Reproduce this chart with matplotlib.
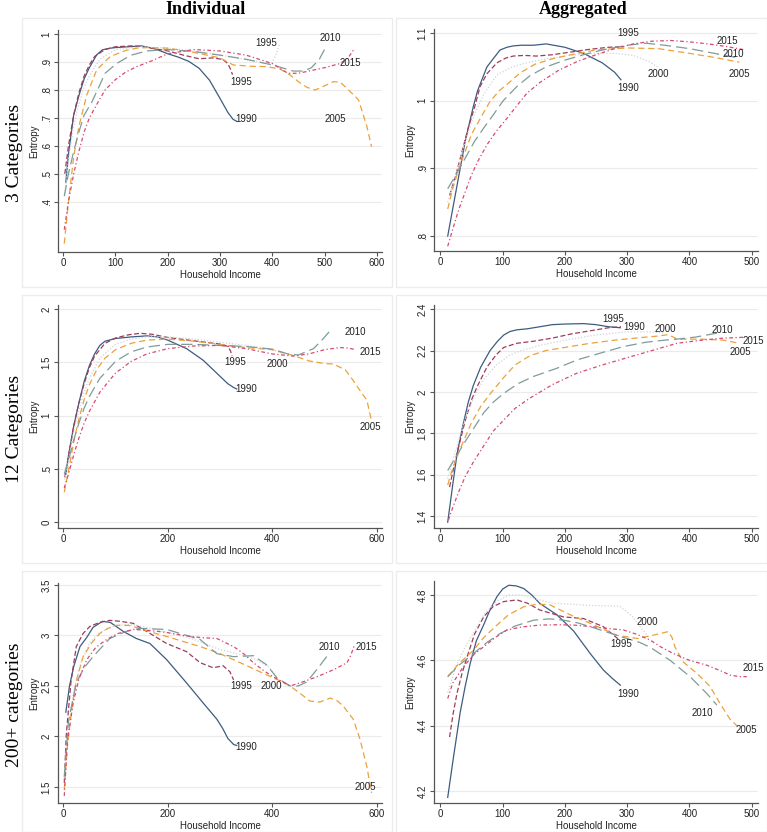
import matplotlib
matplotlib.use("Agg")
import matplotlib.pyplot as plt
from matplotlib.patches import Rectangle

YEARS = ["1990", "1995", "2000", "2005", "2010", "2015"]

# ---- Individual, 3 categories ----
ind3_x = {
    "1990": [5, 10, 20, 30, 40, 50, 64, 75, 90, 100, 125, 150, 175, 200, 220, 240, 260, 280, 300, 315, 325, 332],
    "1995": [3, 10, 20, 30, 40, 50, 60, 80, 100, 130, 150, 175, 200, 230, 260, 285, 305, 315, 320, 324],
    "2000": [3, 10, 20, 30, 40, 50, 70, 100, 150, 200, 250, 300, 350, 390, 400, 408, 414],
    "2005": [2, 10, 20, 30, 45, 64, 90, 120, 141, 160, 200, 250, 300, 325, 360, 389, 415, 434, 450, 466, 482, 500, 517, 530, 543, 565, 581, 590],
    "2010": [2, 10, 20, 30, 40, 55, 68, 80, 103, 130, 160, 200, 250, 300, 350, 400, 440, 460, 475, 490, 500],
    "2015": [2, 10, 20, 30, 40, 50, 67, 80, 99, 120, 141, 170, 200, 250, 300, 350, 400, 430, 450, 475, 500, 530, 545, 556],
}
ind3_y = {
    "1990": [0.47, 0.57, 0.71, 0.78, 0.84, 0.88, 0.926, 0.944, 0.95, 0.952, 0.955, 0.958, 0.948, 0.93, 0.918, 0.903, 0.878, 0.835, 0.77, 0.72, 0.695, 0.688],
    "1995": [0.50, 0.60, 0.71, 0.79, 0.85, 0.89, 0.92, 0.945, 0.955, 0.958, 0.956, 0.948, 0.94, 0.925, 0.912, 0.915, 0.91, 0.895, 0.875, 0.855],
    "2000": [0.42, 0.55, 0.67, 0.75, 0.81, 0.85, 0.91, 0.945, 0.955, 0.95, 0.94, 0.925, 0.91, 0.895, 0.898, 0.93, 0.965],
    "2005": [0.25, 0.40, 0.56, 0.67, 0.782, 0.872, 0.92, 0.942, 0.95, 0.952, 0.95, 0.935, 0.915, 0.89, 0.885, 0.884, 0.875, 0.854, 0.83, 0.81, 0.80, 0.815, 0.83, 0.828, 0.806, 0.765, 0.67, 0.597],
    "2010": [0.42, 0.50, 0.58, 0.65, 0.71, 0.758, 0.81, 0.86, 0.896, 0.925, 0.94, 0.945, 0.938, 0.925, 0.91, 0.89, 0.868, 0.868, 0.88, 0.91, 0.945],
    "2015": [0.30, 0.40, 0.50, 0.58, 0.65, 0.70, 0.758, 0.80, 0.836, 0.865, 0.884, 0.905, 0.93, 0.945, 0.94, 0.925, 0.895, 0.86, 0.86, 0.87, 0.88, 0.895, 0.915, 0.945],
}
ind3_labels = [("1995", 389, 0.968), ("1995", 341, 0.83), ("1990", 351, 0.696),
               ("2005", 520, 0.696), ("2010", 511, 0.988), ("2015", 549, 0.898)]

# ---- Aggregated, 3 categories ----
agg3_x = {
    "1990": [12, 20, 30, 40, 53, 60, 75, 85, 96, 107, 117, 130, 150, 170, 200, 230, 260, 280, 290],
    "1995": [15, 25, 35, 45, 55, 64, 75, 91, 105, 117, 135, 154, 180, 210, 240, 270, 295],
    "2000": [12, 25, 40, 55, 70, 91, 115, 139, 170, 200, 240, 280, 310, 335, 352],
    "2005": [12, 20, 30, 40, 50, 65, 80, 95, 107, 128, 152, 180, 210, 250, 300, 350, 400, 440, 480],
    "2010": [12, 25, 40, 55, 70, 85, 101, 123, 144, 170, 200, 230, 260, 300, 330, 360, 400, 440, 480],
    "2015": [12, 20, 30, 40, 50, 60, 75, 90, 107, 125, 139, 160, 190, 220, 250, 280, 310, 340, 370, 400, 430, 460, 490],
}
agg3_y = {
    "1990": [0.80, 0.84, 0.89, 0.94, 0.991, 1.015, 1.05, 1.062, 1.075, 1.079, 1.081, 1.082, 1.082, 1.084, 1.079, 1.07, 1.056, 1.042, 1.031],
    "1995": [0.86, 0.89, 0.925, 0.96, 0.99, 1.021, 1.04, 1.056, 1.063, 1.066, 1.067, 1.066, 1.068, 1.072, 1.076, 1.079, 1.08],
    "2000": [0.85, 0.89, 0.94, 0.98, 1.01, 1.038, 1.05, 1.056, 1.062, 1.066, 1.07, 1.07, 1.067, 1.058, 1.048],
    "2005": [0.84, 0.87, 0.90, 0.925, 0.95, 0.975, 0.999, 1.015, 1.024, 1.041, 1.054, 1.062, 1.068, 1.075, 1.078, 1.077, 1.07, 1.064, 1.057],
    "2010": [0.87, 0.89, 0.915, 0.94, 0.96, 0.979, 1.0, 1.021, 1.037, 1.05, 1.06, 1.068, 1.075, 1.082, 1.085, 1.082, 1.077, 1.07, 1.063],
    "2015": [0.785, 0.81, 0.84, 0.865, 0.89, 0.91, 0.935, 0.955, 0.974, 0.995, 1.011, 1.027, 1.045, 1.058, 1.068, 1.077, 1.084, 1.088, 1.089, 1.087, 1.084, 1.08, 1.075],
}
agg3_labels = [("1995", 302, 1.10), ("2015", 461, 1.089), ("2010", 471, 1.069),
               ("2000", 350, 1.04), ("2005", 480, 1.04), ("1990", 301, 1.019)]

# ---- Individual, 12 categories ----
ind12_x = {
    "1990": [5, 10, 20, 30, 40, 50, 60, 70, 80, 100, 130, 160, 180, 200, 236, 268, 300, 315, 326, 332],
    "1995": [3, 10, 20, 30, 40, 50, 60, 80, 100, 125, 147, 170, 200, 240, 280, 305, 315, 320, 323],
    "2000": [3, 10, 20, 30, 40, 50, 70, 100, 130, 160, 200, 250, 300, 350, 380, 400, 415, 425],
    "2005": [2, 10, 20, 30, 40, 50, 65, 80, 100, 130, 160, 200, 250, 300, 350, 400, 440, 470, 500, 517, 540, 555, 570, 581, 590],
    "2010": [2, 10, 20, 30, 40, 50, 70, 100, 130, 160, 200, 250, 300, 350, 400, 430, 450, 479, 495, 511],
    "2015": [2, 10, 20, 30, 40, 50, 70, 100, 130, 160, 200, 250, 300, 350, 400, 440, 470, 500, 530, 545, 560],
}
ind12_y = {
    "1990": [0.45, 0.62, 0.90, 1.12, 1.32, 1.47, 1.58, 1.66, 1.70, 1.725, 1.74, 1.75, 1.74, 1.71, 1.63, 1.52, 1.37, 1.30, 1.265, 1.25],
    "1995": [0.42, 0.62, 0.90, 1.12, 1.30, 1.45, 1.56, 1.68, 1.73, 1.76, 1.774, 1.765, 1.735, 1.71, 1.685, 1.67, 1.65, 1.61, 1.56],
    "2000": [0.40, 0.58, 0.85, 1.05, 1.22, 1.35, 1.54, 1.67, 1.72, 1.74, 1.74, 1.72, 1.69, 1.66, 1.64, 1.62, 1.595, 1.565],
    "2005": [0.28, 0.48, 0.75, 0.97, 1.15, 1.29, 1.44, 1.54, 1.62, 1.68, 1.71, 1.72, 1.70, 1.67, 1.64, 1.62, 1.565, 1.515, 1.49, 1.485, 1.43, 1.33, 1.22, 1.146, 0.95],
    "2010": [0.45, 0.58, 0.77, 0.93, 1.07, 1.18, 1.35, 1.51, 1.60, 1.645, 1.67, 1.67, 1.66, 1.65, 1.625, 1.58, 1.57, 1.63, 1.71, 1.80],
    "2015": [0.32, 0.45, 0.63, 0.79, 0.93, 1.04, 1.22, 1.40, 1.51, 1.58, 1.63, 1.655, 1.66, 1.63, 1.58, 1.56, 1.58, 1.62, 1.64, 1.635, 1.62],
}
ind12_labels = [("2010", 558, 1.79), ("2015", 588, 1.595), ("1995", 330, 1.507),
                ("2000", 410, 1.485), ("1990", 351, 1.246), ("2005", 588, 0.895)]

# ---- Aggregated, 12 categories ----
agg12_x = {
    "1990": [12, 20, 27, 35, 45, 53, 65, 80, 92, 102, 112, 123, 140, 160, 180, 200, 230, 250, 270, 289],
    "1995": [15, 22, 30, 40, 50, 60, 75, 90, 102, 123, 150, 180, 210, 240, 270, 290],
    "2000": [12, 25, 40, 55, 70, 90, 110, 130, 160, 200, 250, 300, 340, 360],
    "2005": [12, 20, 30, 40, 50, 65, 80, 102, 120, 144, 170, 200, 241, 280, 320, 350, 364, 372, 380, 420, 455, 480],
    "2010": [12, 20, 30, 40, 55, 70, 85, 102, 125, 150, 187, 220, 260, 294, 330, 360, 380, 410, 444],
    "2015": [13, 20, 30, 40, 53, 70, 85, 102, 120, 144, 180, 219, 260, 294, 340, 380, 420, 455, 487],
}
agg12_y = {
    "1990": [1.37, 1.55, 1.70, 1.82, 1.95, 2.03, 2.12, 2.20, 2.245, 2.275, 2.292, 2.30, 2.305, 2.315, 2.325, 2.328, 2.33, 2.325, 2.315, 2.31],
    "1995": [1.54, 1.64, 1.74, 1.86, 1.96, 2.03, 2.12, 2.18, 2.215, 2.235, 2.245, 2.26, 2.28, 2.295, 2.31, 2.315],
    "2000": [1.58, 1.72, 1.87, 1.98, 2.06, 2.13, 2.175, 2.20, 2.225, 2.25, 2.275, 2.29, 2.29, 2.285],
    "2005": [1.55, 1.63, 1.71, 1.78, 1.85, 1.93, 1.99, 2.07, 2.13, 2.175, 2.20, 2.215, 2.235, 2.25, 2.262, 2.27, 2.276, 2.268, 2.255, 2.255, 2.25, 2.235],
    "2010": [1.62, 1.66, 1.71, 1.76, 1.83, 1.90, 1.95, 1.993, 2.04, 2.075, 2.114, 2.155, 2.19, 2.219, 2.24, 2.25, 2.255, 2.265, 2.284],
    "2015": [1.38, 1.44, 1.52, 1.59, 1.66, 1.74, 1.81, 1.864, 1.92, 1.97, 2.035, 2.09, 2.13, 2.16, 2.20, 2.235, 2.25, 2.26, 2.264],
}
agg12_labels = [("1995", 278, 2.35), ("1990", 312, 2.313), ("2000", 361, 2.303),
                ("2010", 452, 2.297), ("2015", 502, 2.247), ("2005", 481, 2.195)]

# ---- Individual, 200+ categories ----
ind200_x = {
    "1990": [5, 12, 20, 32, 45, 57, 75, 90, 115, 140, 166, 198, 236, 268, 294, 305, 315, 326, 332],
    "1995": [2, 6, 15, 25, 38, 51, 70, 89, 110, 134, 166, 198, 236, 262, 287, 306, 319, 326],
    "2000": [2, 10, 20, 35, 50, 70, 100, 130, 160, 200, 250, 300, 340, 370, 395, 410],
    "2005": [2, 8, 16, 25, 38, 55, 70, 85, 102, 125, 147, 170, 198, 230, 262, 295, 326, 360, 389, 415, 434, 455, 472, 491, 511, 525, 536, 555, 568, 581, 590],
    "2010": [2, 10, 25, 40, 57, 89, 120, 147, 198, 230, 262, 294, 326, 364, 389, 409, 434, 450, 466, 485, 507],
    "2015": [2, 8, 19, 30, 45, 62, 83, 105, 134, 165, 198, 230, 262, 294, 326, 345, 364, 384, 402, 420, 434, 453, 485, 517, 543, 550, 557],
}
ind200_y = {
    "1990": [2.24, 2.50, 2.69, 2.89, 2.98, 3.08, 3.14, 3.13, 3.04, 2.97, 2.92, 2.76, 2.53, 2.33, 2.17, 2.08, 1.98, 1.92, 1.91],
    "1995": [1.54, 2.03, 2.55, 2.89, 3.02, 3.09, 3.13, 3.15, 3.14, 3.12, 3.02, 2.92, 2.84, 2.73, 2.68, 2.70, 2.64, 2.56],
    "2000": [1.60, 2.10, 2.45, 2.75, 2.92, 3.03, 3.10, 3.11, 3.08, 3.03, 2.96, 2.86, 2.81, 2.76, 2.68, 2.58],
    "2005": [1.47, 1.90, 2.26, 2.55, 2.79, 2.93, 3.02, 3.07, 3.10, 3.10, 3.07, 3.03, 2.99, 2.94, 2.89, 2.83, 2.76, 2.68, 2.61, 2.55, 2.50, 2.42, 2.35, 2.34, 2.38, 2.35, 2.30, 2.17, 1.97, 1.70, 1.44],
    "2010": [1.60, 2.15, 2.53, 2.68, 2.79, 2.97, 3.04, 3.07, 3.06, 3.01, 2.96, 2.82, 2.79, 2.80, 2.71, 2.58, 2.50, 2.50, 2.54, 2.66, 2.81],
    "2015": [1.41, 1.95, 2.33, 2.57, 2.76, 2.88, 2.96, 3.02, 3.06, 3.05, 3.03, 3.00, 2.98, 2.97, 2.89, 2.82, 2.73, 2.65, 2.59, 2.54, 2.50, 2.53, 2.59, 2.66, 2.73, 2.80, 2.90],
}
ind200_labels = [("2010", 509, 2.89), ("2015", 580, 2.89), ("1995", 341, 2.495),
                 ("2000", 399, 2.495), ("1990", 351, 1.895), ("2005", 578, 1.50)]

# ---- Aggregated, 200+ categories ----
agg200_x = {
    "1990": [12, 21, 32, 40, 48, 58, 70, 80, 91, 100, 110, 122, 134, 147, 160, 187, 214, 241, 262, 276, 289],
    "1995": [15, 21, 27, 35, 43, 55, 70, 85, 102, 123, 140, 160, 198, 230, 262, 289],
    "2000": [12, 25, 40, 55, 70, 90, 110, 130, 150, 180, 210, 240, 270, 288, 309, 322, 335],
    "2005": [12, 30, 53, 70, 91, 110, 134, 155, 176, 208, 241, 283, 316, 342, 366, 372, 377, 390, 412, 433, 449, 465, 476],
    "2010": [12, 30, 53, 75, 96, 120, 150, 175, 198, 220, 241, 270, 294, 320, 337, 369, 401, 428, 444],
    "2015": [12, 20, 37, 55, 70, 90, 107, 130, 160, 190, 214, 240, 267, 294, 315, 337, 355, 374, 400, 428, 450, 465, 480, 492],
}
agg200_y = {
    "1990": [4.18, 4.30, 4.44, 4.52, 4.59, 4.66, 4.71, 4.755, 4.795, 4.818, 4.83, 4.828, 4.82, 4.80, 4.774, 4.74, 4.69, 4.62, 4.57, 4.545, 4.524],
    "1995": [4.365, 4.44, 4.50, 4.56, 4.61, 4.68, 4.734, 4.765, 4.78, 4.785, 4.775, 4.754, 4.733, 4.728, 4.703, 4.66],
    "2000": [4.50, 4.58, 4.64, 4.69, 4.74, 4.78, 4.80, 4.80, 4.79, 4.775, 4.772, 4.768, 4.767, 4.766, 4.733, 4.70, 4.67],
    "2005": [4.55, 4.59, 4.63, 4.67, 4.708, 4.74, 4.764, 4.772, 4.77, 4.74, 4.713, 4.677, 4.667, 4.677, 4.688, 4.67, 4.64, 4.595, 4.56, 4.52, 4.468, 4.42, 4.40],
    "2010": [4.55, 4.585, 4.62, 4.655, 4.682, 4.705, 4.723, 4.727, 4.723, 4.715, 4.703, 4.685, 4.67, 4.655, 4.64, 4.60, 4.55, 4.498, 4.463],
    "2015": [4.483, 4.53, 4.58, 4.62, 4.642, 4.672, 4.693, 4.702, 4.708, 4.709, 4.708, 4.704, 4.698, 4.693, 4.68, 4.662, 4.64, 4.621, 4.60, 4.585, 4.568, 4.555, 4.55, 4.55],
}
agg200_labels = [("2000", 332, 4.718), ("1995", 291, 4.649), ("2015", 502, 4.578),
                 ("1990", 302, 4.498), ("2010", 421, 4.439), ("2005", 492, 4.388)]

# axis setup per panel
ind3_ticks = [0.4, 0.5, 0.6, 0.7, 0.8, 0.9, 1.0]
ind3_ticklabels = [".4", ".5", ".6", ".7", ".8", ".9", "1"]
agg3_ticks = [0.8, 0.9, 1.0, 1.1]
agg3_ticklabels = [".8", ".9", "1", "1.1"]
ind12_ticks = [0, 0.5, 1, 1.5, 2]
ind12_ticklabels = ["0", ".5", "1", "1.5", "2"]
agg12_ticks = [1.4, 1.6, 1.8, 2.0, 2.2, 2.4]
agg12_ticklabels = ["1.4", "1.6", "1.8", "2", "2.2", "2.4"]
ind200_ticks = [1.5, 2, 2.5, 3, 3.5]
ind200_ticklabels = ["1.5", "2", "2.5", "3", "3.5"]
agg200_ticks = [4.2, 4.4, 4.6, 4.8]
agg200_ticklabels = ["4.2", "4.4", "4.6", "4.8"]

STYLES = {
    "1990": dict(color="#3d5c80", linestyle="-"),
    "1995": dict(color="#9c3d5a", linestyle=(0, (4, 2))),
    "2000": dict(color="#cdd5d8", linestyle=(0, (1, 1.5))),
    "2005": dict(color="#eba13c", linestyle=(0, (5, 3))),
    "2010": dict(color="#7e9c9b", linestyle=(0, (9, 4))),
    "2015": dict(color="#d84a6e", linestyle=(0, (3, 2, 1, 2))),
}

SANS = "Liberation Sans"
SERIF = "Liberation Serif"

W, H = 767, 832
fig = plt.figure(figsize=(W / 100, H / 100), dpi=100)

# light frames around each graph (pixel boxes: left, top, right, bottom)
frames = [(22, 18, 392, 287), (396, 18, 767, 287),
          (22, 295, 392, 563), (396, 295, 767, 563),
          (22, 571, 392, 832), (396, 571, 767, 832)]
for l, t, r, b in frames:
    fig.patches.append(Rectangle((l / W, 1 - b / H), (r - l) / W, (b - t) / H,
                                 transform=fig.transFigure, fill=False,
                                 edgecolor="#ececec", lw=1.0))


def make_axes(left, top, right, bottom):
    return fig.add_axes([left / W, 1 - bottom / H, (right - left) / W, (bottom - top) / H])


panels = [
    (make_axes(58, 30, 382, 252), ind3_x, ind3_y, ind3_labels, (-10, 610), (0.22, 1.015),
     range(0, 601, 100), ind3_ticks, ind3_ticklabels),
    (make_axes(434, 29, 758, 251), agg3_x, agg3_y, agg3_labels, (-10, 510), (0.778, 1.106),
     range(0, 501, 100), agg3_ticks, agg3_ticklabels),
    (make_axes(58, 305, 382, 528), ind12_x, ind12_y, ind12_labels, (-10, 610), (-0.056, 2.04),
     range(0, 601, 200), ind12_ticks, ind12_ticklabels),
    (make_axes(434, 305, 758, 528), agg12_x, agg12_y, agg12_labels, (-10, 510), (1.342, 2.42),
     range(0, 501, 100), agg12_ticks, agg12_ticklabels),
    (make_axes(58, 583, 382, 803), ind200_x, ind200_y, ind200_labels, (-10, 610), (1.34, 3.52),
     range(0, 601, 200), ind200_ticks, ind200_ticklabels),
    (make_axes(434, 581, 758, 803), agg200_x, agg200_y, agg200_labels, (-10, 510), (4.163, 4.843),
     range(0, 501, 100), agg200_ticks, agg200_ticklabels),
]

for ax, xs, ys, labels, xlim, ylim, xticks, yticks, yticklabels in panels:
    for yr in YEARS:
        ax.plot(xs[yr], ys[yr], lw=0.9, **STYLES[yr])
    for txt, lx, ly in labels:
        ax.text(lx, ly, txt, fontsize=7, family=SANS, color="#222222",
                ha="center", va="center")
    ax.set_xlim(*xlim)
    ax.set_ylim(*ylim)
    ax.set_xticks(list(xticks))
    ax.set_xticklabels([str(v) for v in xticks], family=SANS, fontsize=7)
    ax.set_yticks(yticks)
    ax.set_yticklabels(yticklabels, family=SANS, fontsize=7, rotation=90, va="center")
    ax.grid(axis="y", color="#ebebeb", lw=0.8)
    ax.set_axisbelow(True)
    for s in ["top", "right"]:
        ax.spines[s].set_visible(False)
    for s in ["left", "bottom"]:
        ax.spines[s].set_color("#555555")
        ax.spines[s].set_linewidth(0.9)
    ax.tick_params(direction="out", length=3, width=0.8, color="#555555",
                   labelcolor="#222222", pad=1.5)
    ax.set_xlabel("Household Income", family=SANS, fontsize=7, color="#222222", labelpad=1)
    ax.set_ylabel("Entropy", family=SANS, fontsize=7, color="#222222", labelpad=2)
    ax.patch.set_alpha(0)

# column titles and row labels
fig.text(206 / W, 1 - 1 / H, "Individual", family=SERIF, fontsize=13,
         fontweight="bold", ha="center", va="top")
fig.text(583 / W, 1 - 1 / H, "Aggregated", family=SERIF, fontsize=13,
         fontweight="bold", ha="center", va="top")
for txt, yc in [("3 Categories", 153), ("12 Categories", 429), ("200+ categories", 705)]:
    fig.text(15 / W, 1 - yc / H, txt, family=SERIF, fontsize=14, rotation=90,
             ha="center", va="center")

fig.savefig("out.png", dpi=100)
